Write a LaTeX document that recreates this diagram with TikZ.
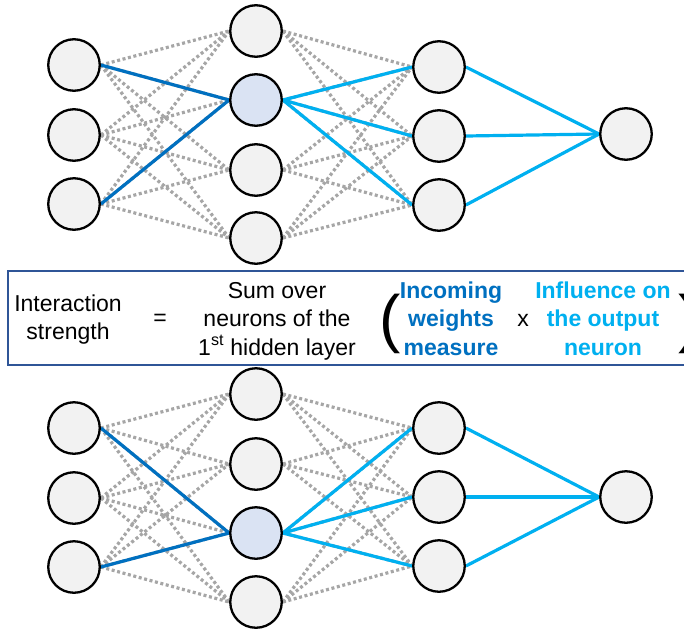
\documentclass[tikz,border=0pt]{standalone}
\usepackage{fontspec}
\setmainfont{Liberation Sans}
\usetikzlibrary{backgrounds}
\definecolor{nodefill}{RGB}{242,242,242}
\definecolor{hotfill}{RGB}{218,227,243}
\definecolor{inblue}{RGB}{0,112,192}
\definecolor{outblue}{RGB}{0,176,240}
\definecolor{dotgray}{RGB}{166,166,166}
\definecolor{framecol}{RGB}{47,85,151}
\tikzset{
  neuron/.style={circle, draw=black, line width=2.3pt, fill=nodefill, minimum size=51.5pt, inner sep=0pt},
  hot/.style={neuron, fill=hotfill},
  weak/.style={draw=dotgray, line width=3.2pt, dash pattern=on 3pt off 2.6pt},
  inedge/.style={draw=inblue, line width=3.2pt},
  outedge/.style={draw=outblue, line width=3.2pt},
  txt/.style={font=\fontsize{23}{28}\selectfont, inner sep=0pt, anchor=base},
  btxt/.style={txt, font=\fontsize{23}{28}\selectfont\bfseries},
  paren/.style={font=\fontsize{64}{64}\selectfont, inner sep=0pt, anchor=base},
}
\begin{document}
\begin{tikzpicture}[x=1pt,y=-1pt]
\useasboundingbox (0,0) rectangle (684,632);
\clip (0,0) rectangle (684,632);

% ---- upper network: path through the second hidden neuron ----
\foreach \i/\y in {1/65,2/135,3/204} \node[neuron] (ti\i) at (74,\y) {};
\node[neuron] (th1) at (256,31) {};
\node[hot]    (th2) at (256,100) {};
\node[neuron] (th3) at (256,170) {};
\node[neuron] (th4) at (256,238) {};
\foreach \i/\y in {1/67,2/136,3/205} \node[neuron] (tm\i) at (439,\y) {};
\node[neuron] (ty) at (626,134) {};

% ---- lower network: path through the third hidden neuron ----
\foreach \i/\y in {1/428,2/498,3/567} \node[neuron] (bi\i) at (74,\y) {};
\node[neuron] (bh1) at (256,394) {};
\node[neuron] (bh2) at (256,464) {};
\node[hot]    (bh3) at (256,533) {};
\node[neuron] (bh4) at (256,602) {};
\foreach \i/\y in {1/428,2/497,3/566} \node[neuron] (bm\i) at (439,\y) {};
\node[neuron] (by) at (626,497) {};

\begin{scope}[on background layer]
  \foreach \p in {t,b}{
    \foreach \a in {1,2,3} \foreach \b in {1,...,4}
      \draw[weak] (\p i\a.east) -- (\p h\b.west);
    \foreach \b in {1,...,4} \foreach \c in {1,2,3}
      \draw[weak] (\p h\b.east) -- (\p m\c.west);
  }
  % highlighted weights, upper network
  \draw[inedge] (ti1.east) -- (th2.west);
  \draw[inedge] (ti3.east) -- (th2.west);
  \foreach \c in {1,2,3} {
    \draw[outedge] (th2.east) -- (tm\c.west);
    \draw[outedge] (tm\c.east) -- (ty.west);
  }
  % highlighted weights, lower network
  \draw[inedge] (bi1.east) -- (bh3.west);
  \draw[inedge] (bi3.east) -- (bh3.west);
  \foreach \c in {1,2,3} {
    \draw[outedge] (bh3.east) -- (bm\c.west);
    \draw[outedge] (bm\c.east) -- (by.west);
  }
\end{scope}

% ---- formula banner ----
\node[draw=framecol, line width=2.2pt, fill=white, inner sep=0pt,
      minimum width=700pt, minimum height=94pt, anchor=north west] (banner) at (7,270) {};

\node[txt] (l1) at (68,311) {Interaction};
\node[txt] (l2) at (68,339) {strength};
\node[txt] (eq) at (160,325.5) {=};
\node[txt] (s1) at (277,298) {Sum over};
\node[txt] (s2) at (277,326.5) {neurons of the};
\node[txt] (s3) at (277,355) {1\textsuperscript{st} hidden layer};
\node[paren] (lp) at (390,340) {(};
\node[btxt, text=inblue] (w1) at (451,298) {Incoming};
\node[btxt, text=inblue] (w2) at (451,326.5) {weights};
\node[btxt, text=inblue] (w3) at (451,355) {measure};
\node[txt] (times) at (523,326.5) {x};
\node[btxt, text=outblue] (f1) at (603,298) {Influence on};
\node[btxt, text=outblue] (f2) at (603,326.5) {the output};
\node[btxt, text=outblue] (f3) at (603,355) {neuron};
\node[paren] (rp) at (689,340) {)};
\end{tikzpicture}
\end{document}
